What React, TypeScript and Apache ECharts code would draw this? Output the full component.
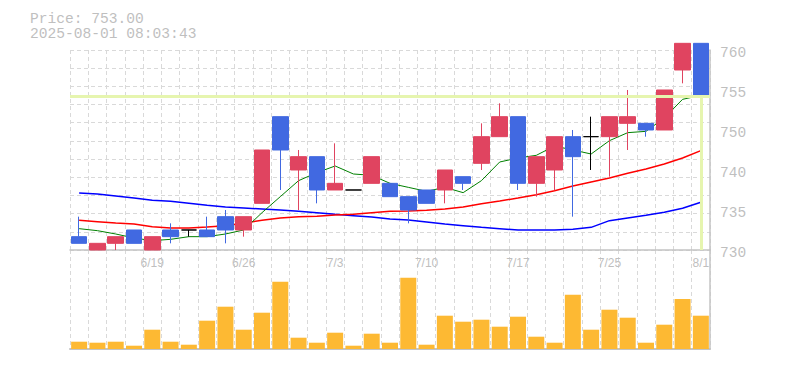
import React, { useEffect, useRef } from 'react';
import * as echarts from 'echarts';

const dates = ['6/13','6/16','6/17','6/18','6/19','6/20','6/23','6/24','6/25','6/26','6/27','6/30','7/1','7/2','7/3','7/4','7/7','7/8','7/9','7/10','7/11','7/14','7/15','7/16','7/17','7/18','7/22','7/23','7/24','7/25','7/28','7/29','7/30','7/31','8/1'];
const opens = [732,730,731,733,730,733,733,733,735,733,737,750,742,744,739,739,740,740,738,739,739,741,743,747,750,740,742,747,747,747,749,749,748,757,761];
const closes = [731,731,732,731,732,732,733,732,733,735,745,745,744,739,740,739,744,738,736,737,742,740,747,750,740,744,747,744,747,750,750,748,754,761,753];
const lows = [731,730,730,731,730,731,732,732,731,732,737,739,736,737,739,739,740,738,734,737,737,739,742,747,739,738,739,735,742,741,745,747,748,755,748];
const highs = [735,731,732,733,732,734,733,735,736,735,745,750,745,744,746,739,744,740,738,739,742,741,749,752,750,744,747,748,750,750,754,749,754,761,761];
const volumes = [730,630,730,330,1930,730,430,2830,4230,1930,3630,6730,1130,630,1630,330,1530,630,7130,430,3330,2730,2930,2230,3230,1230,630,5430,1930,3930,3130,630,2430,5000,3330];
const ma5 = [733.2,732.9,732.4,731.8,731.4,731.6,732.0,732.0,732.4,733.0,735.6,738.0,740.4,741.6,742.6,741.4,741.2,740.0,739.4,738.8,739.4,738.6,740.4,743.2,743.8,744.2,745.6,745.0,744.4,746.4,747.6,747.8,749.8,752.6,753.2];
const ma25 = [734.45,734.25,734.05,733.9,733.5,733.3,733.3,733.45,733.65,734.05,734.45,734.8,735.0,735.05,735.25,735.35,735.6,735.8,735.85,735.95,736.15,736.45,736.95,737.35,737.8,738.3,738.9,739.6,740.2,740.8,741.5,742.15,742.9,743.8,744.9];
const ma75 = [738.55,738.4,738.1,737.8,737.45,737.3,737.0,736.7,736.45,736.3,736.15,736.0,735.8,735.6,735.35,735.15,734.95,734.65,734.5,734.2,733.9,733.65,733.4,733.2,733.0,733.0,733.0,733.1,733.4,734.4,734.8,735.2,735.65,736.25,737.15];
const dateLabels = ['6/19','6/26','7/3','7/10','7/17','7/25','8/1'];
const yTickValues = [730,736,742,748,754,760];
const yTickLabels = ['730','735','740','750','755','760'];
const currentPrice = 753;
const priceText = 'Price: 753.00';
const timeText = '2025-08-01 08:03:43';

const UP = '#e04460';
const DOWN = '#4169e1';
const GRIDC = '#d9d9d9';
const AXISC = '#c4c4c4';
const TEXTC = '#bfbfbf';
const MONO = '"Liberation Mono", "DejaVu Sans Mono", monospace';

export default function App() {
  const ref = useRef<HTMLDivElement>(null);
  useEffect(() => {
    if (!ref.current) return;
    const chart = echarts.init(ref.current, null, { renderer: 'svg' });
    const candleData = dates.map((d, i) => {
      const item: any = { value: [opens[i], closes[i], lows[i], highs[i]] };
      if (opens[i] === closes[i]) {
        item.itemStyle = { color: '#000', color0: '#000', borderColor: '#000', borderColor0: '#000' };
      }
      return item;
    });
    const dashed = { show: true, interval: 0, lineStyle: { color: GRIDC, width: 1, type: [4, 3] as any } };
    const hiddenAxis = { axisLine: { show: false }, axisTick: { show: false }, splitLine: { show: false }, axisLabel: { show: false } };
    chart.setOption({
      animation: false,
      backgroundColor: '#fff',
      graphic: [
        { type: 'text', style: { x: 30, y: 18.9, text: priceText, fill: TEXTC, fontSize: 14.6, lineHeight: 14, fontFamily: MONO, verticalAlign: 'middle' } },
        { type: 'text', style: { x: 30, y: 33.8, text: timeText, fill: TEXTC, fontSize: 14.6, lineHeight: 14, fontFamily: MONO, verticalAlign: 'middle' } },
      ],
      grid: [
        { left: 70, width: 640, top: 43.33, height: 206.67 },
        { left: 70, width: 640, top: 50, height: 200 },
        { left: 70, width: 640, top: 250, height: 99 },
        { left: 70, width: 640, top: 46.6, height: 206.67 },
      ],
      xAxis: [
        {
          type: 'category', gridIndex: 0, data: dates, boundaryGap: true,
          axisLine: { show: false }, axisTick: { show: false }, splitLine: { show: false },
          axisLabel: {
            interval: (idx: number, val: string) => dateLabels.indexOf(val) >= 0,
            color: TEXTC, fontSize: 12, fontFamily: '"Liberation Sans", Arial, sans-serif', margin: 7,
          },
        },
        {
          type: 'category', gridIndex: 1, data: dates, boundaryGap: true,
          axisLine: { show: true, lineStyle: { color: AXISC, width: 1.5 } }, axisTick: { show: false },
          axisLabel: { show: false }, splitLine: dashed,
        },
        {
          type: 'category', gridIndex: 2, data: dates, boundaryGap: true,
          axisLine: { show: true, lineStyle: { color: AXISC, width: 2 } }, axisTick: { show: false },
          axisLabel: { show: false }, splitLine: dashed,
        },
        { type: 'category', gridIndex: 3, data: dates, ...hiddenAxis },
      ],
      yAxis: [
        { type: 'value', gridIndex: 0, position: 'right', min: 730, max: 761, interval: 6, ...hiddenAxis },
        {
          type: 'value', gridIndex: 1, position: 'right', min: 0, max: 11, interval: 1,
          axisLine: { show: true, lineStyle: { color: AXISC, width: 1.5 } }, axisTick: { show: false },
          axisLabel: { show: false }, splitLine: { show: true, lineStyle: { color: GRIDC, width: 1, type: [4, 3] as any } },
        },
        {
          type: 'value', gridIndex: 2, position: 'right', min: 0, max: 9900,
          axisLine: { show: true, lineStyle: { color: AXISC, width: 1.5 } }, axisTick: { show: false },
          axisLabel: { show: false }, splitLine: { show: false },
        },
        {
          type: 'value', gridIndex: 3, position: 'right', min: 730, max: 761, interval: 6,
          axisLine: { show: false }, axisTick: { show: false }, splitLine: { show: false },
          axisLabel: {
            color: TEXTC, fontSize: 14.5, fontFamily: MONO, margin: 10,
            formatter: (v: number) => {
              const k = yTickValues.indexOf(Math.round(v * 1000) / 1000);
              return k >= 0 ? yTickLabels[k] : '';
            },
          },
        },
      ],
      series: [
        {
          type: 'line', xAxisIndex: 0, yAxisIndex: 0, data: [], z: 1, silent: true,
          markLine: {
            silent: true, symbol: 'none', label: { show: false },
            lineStyle: { color: '#e6f5af', width: 3, type: 'solid' },
            data: [
              { yAxis: currentPrice },
              [{ coord: [dates[dates.length - 1], currentPrice] }, { coord: [dates[dates.length - 1], 730] }],
            ],
          },
        },
        { type: 'line', xAxisIndex: 0, yAxisIndex: 0, data: ma75, showSymbol: false, symbol: 'none', z: 2, lineStyle: { color: '#0000ff', width: 1.5 } },
        { type: 'line', xAxisIndex: 0, yAxisIndex: 0, data: ma25, showSymbol: false, symbol: 'none', z: 2, lineStyle: { color: '#ff0000', width: 1.5 } },
        { type: 'line', xAxisIndex: 0, yAxisIndex: 0, data: ma5, showSymbol: false, symbol: 'none', z: 2, lineStyle: { color: '#008000', width: 1 } },
        {
          type: 'candlestick', xAxisIndex: 0, yAxisIndex: 0, data: candleData, barWidth: 16, z: 3,
          itemStyle: { color: UP, color0: DOWN, borderColor: UP, borderColor0: DOWN, borderWidth: 1 },
        },
        {
          type: 'bar', xAxisIndex: 2, yAxisIndex: 2, data: volumes, barWidth: 16,
          itemStyle: { color: '#fdb933' },
        },
      ],
    });
    return () => chart.dispose();
  }, []);
  return <div ref={ref} style={{ position: 'fixed', left: 0, top: 0, width: 785, height: 370 }} />;
}
